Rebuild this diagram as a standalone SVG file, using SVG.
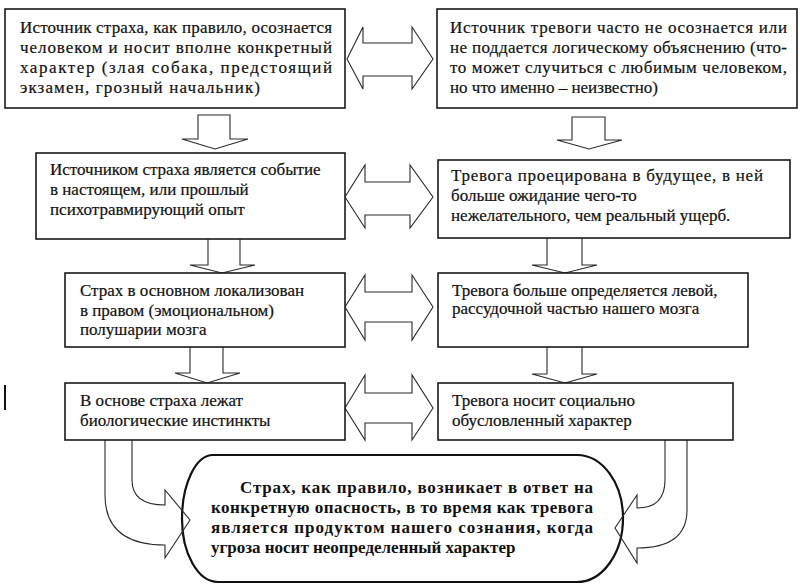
<svg xmlns="http://www.w3.org/2000/svg" width="800" height="585" viewBox="0 0 800 585">
<style>
.box{fill:#fff;stroke:#1a1a1a;stroke-width:1.6}
.arr{fill:#fff;stroke:#2a2a2a;stroke-width:1.1;stroke-linejoin:miter}
.carr{fill:none;stroke:#2a2a2a;stroke-width:1.1}
.t{font-family:"Liberation Serif",serif;font-size:17px;fill:#111;stroke:#111;stroke-width:0.2}
.b{font-family:"Liberation Serif",serif;font-size:17px;font-weight:bold;fill:#111}
</style>
<rect width="800" height="585" fill="#fff"/>
<line x1="5" y1="385" x2="5" y2="410" stroke="#111" stroke-width="2"/>

<g id="final">
<path d="M213,455 L577,455 A46,63 0 0 1 623,518 A46,64 0 0 1 577,582 L218,582 A36,63 0 0 1 182,519 A31,64 0 0 1 213,455 Z" fill="#fff" stroke="#111" stroke-width="2.2"/>
<text class="b" x="240" y="493" textLength="353" lengthAdjust="spacing">Страх, как правило, возникает в ответ на</text>
<text class="b" x="211" y="513" textLength="382" lengthAdjust="spacing">конкретную опасность, в то время как тревога</text>
<text class="b" x="211" y="533" textLength="382" lengthAdjust="spacing">является продуктом нашего сознания, когда</text>
<text class="b" x="211" y="553">угроза носит неопределенный характер</text>
</g>

<g id="connectors">
<path class="arr" d="M198,115 L230,115 L230,139 L248,139 L215,149 L182,139 L198,139 Z"/>
<path class="arr" d="M572,117 L605,117 L605,140 L622,140 L589,149 L557,140 L572,140 Z"/>
<path class="arr" d="M208,239 L208,265 L190,265 L222,273 L255,265 L240,265 L240,239"/>
<path class="arr" d="M547,238 L547,265 L532,265 L565,273 L597,265 L582,265 L582,238"/>
<path class="arr" d="M190,347 L190,373 L175,373 L207,383 L240,373 L223,373 L223,347"/>
<path class="arr" d="M547,347 L547,374 L532,374 L565,383 L597,374 L582,374 L582,347"/>
<path class="arr" d="M347,59 L363,27 L363,43 L412,43 L412,27 L433,59 L412,89 L412,76 L363,76 L363,89 Z"/>
<path class="arr" d="M345,197 L365,165 L365,182 L410,182 L410,165 L433,197 L410,228 L410,215 L365,215 L365,228 Z"/>
<path class="arr" d="M345,307 L365,275 L365,292 L412,292 L412,275 L433,307 L412,340 L412,322 L365,322 L365,340 Z"/>
<path class="arr" d="M345,408 L365,375 L365,393 L412,393 L412,375 L433,408 L412,440 L412,423 L365,423 L365,440 Z"/>
<path class="carr" d="M105,440 L105,495 Q105,545 165,545 L165,558 L190,520 L165,490 L165,505 Q132,505 132,480 L132,440"/>
<path class="carr" d="M665,440 L665,480 Q665,508 637,508 L637,495 L615,528 L637,563 L637,548 Q687,548 687,510 L687,440"/>
</g>

<g id="n1">
<rect class="box" x="5" y="9" width="340" height="99"/>
<text class="t" x="20" y="33" textLength="312" lengthAdjust="spacing">Источник страха, как правило, осознается</text>
<text class="t" x="20" y="53" textLength="312" lengthAdjust="spacing">человеком и носит вполне конкретный</text>
<text class="t" x="20" y="73" textLength="312" lengthAdjust="spacing">характер (злая собака, предстоящий</text>
<text class="t" x="20" y="93" textLength="240" lengthAdjust="spacing">экзамен, грозный начальник)</text>
</g>
<g id="n2">
<rect class="box" x="437" y="9" width="360" height="99"/>
<text class="t" x="450" y="33" textLength="337" lengthAdjust="spacing">Источник тревоги часто не осознается или</text>
<text class="t" x="450" y="53" textLength="337" lengthAdjust="spacing">не поддается логическому объяснению (что-</text>
<text class="t" x="450" y="73" textLength="337" lengthAdjust="spacing">то может случиться с любимым человеком,</text>
<text class="t" x="450" y="93">но что именно – неизвестно)</text>
</g>
<g id="n3">
<rect class="box" x="36" y="153" width="309" height="86"/>
<text class="t" x="50" y="175">Источником страха является событие</text>
<text class="t" x="50" y="195">в настоящем, или прошлый</text>
<text class="t" x="50" y="215">психотравмирующий опыт</text>
</g>
<g id="n4">
<rect class="box" x="438" y="160" width="352" height="78"/>
<text class="t" x="451" y="181" textLength="312" lengthAdjust="spacing">Тревога проецирована в будущее, в ней</text>
<text class="t" x="451" y="201">больше ожидание чего-то</text>
<text class="t" x="451" y="221">нежелательного, чем реальный ущерб.</text>
</g>
<g id="n5">
<rect class="box" x="65" y="273" width="280" height="74"/>
<text class="t" x="80" y="296">Страх в основном локализован</text>
<text class="t" x="80" y="316">в правом (эмоциональном)</text>
<text class="t" x="80" y="335">полушарии мозга</text>
</g>
<g id="n6">
<rect class="box" x="438" y="273" width="310" height="74"/>
<text class="t" x="452" y="296">Тревога больше определяется левой,</text>
<text class="t" x="452" y="314">рассудочной частью нашего мозга</text>
</g>
<g id="n7">
<rect class="box" x="65" y="383" width="280" height="57"/>
<text class="t" x="80" y="406">В основе страха лежат</text>
<text class="t" x="80" y="426">биологические инстинкты</text>
</g>
<g id="n8">
<rect class="box" x="438" y="383" width="295" height="57"/>
<text class="t" x="452" y="406">Тревога носит социально</text>
<text class="t" x="452" y="426">обусловленный характер</text>
</g>
</svg>
